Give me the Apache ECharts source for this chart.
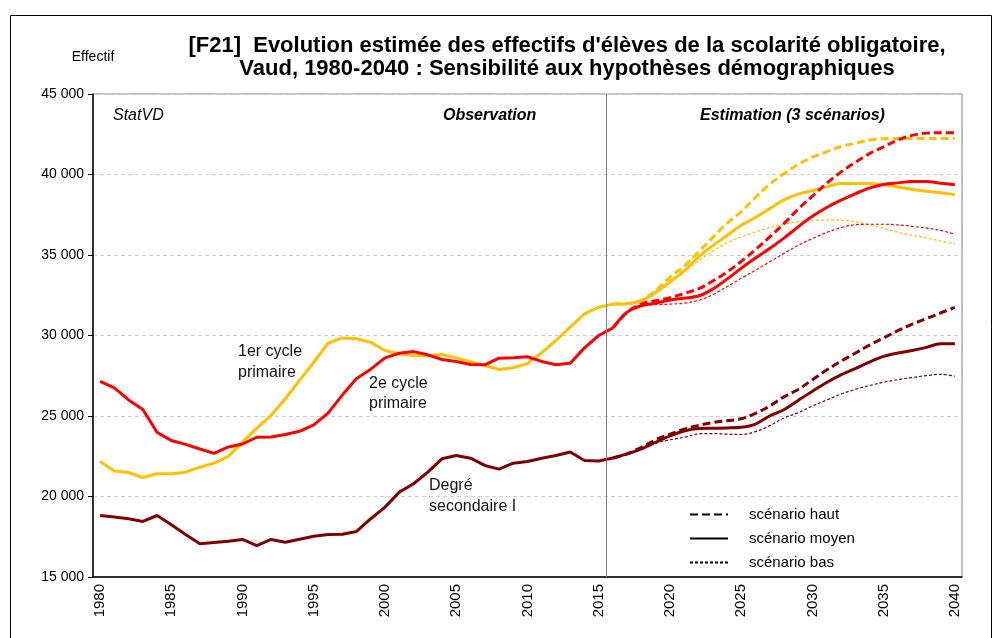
<!DOCTYPE html>
<html>
<head>
<meta charset="utf-8">
<script src="https://cdn.jsdelivr.net/npm/echarts@6/dist/echarts.min.js"></script>
<style>
  html, body { margin: 0; padding: 0; background: #fff; }
  #chart { width: 997px; height: 638px; }
</style>
</head>
<body>
<div id="chart"></div>
<script>
// annees observees et estimees
var obsYears = [1980,1981,1982,1983,1984,1985,1986,1987,1988,1989,1990,1991,1992,1993,1994,1995,1996,1997,1998,
  1999,2000,2001,2002,2003,2004,2005,2006,2007,2008,2009,2010,2011,2012,2013,2014,2015,2016];
var estYears = [2016,2017,2018,2019,2020,2021,2022,2023,2024,2025,2026,2027,2028,2029,2030,2031,2032,2033,2034,
  2035,2036,2037,2038,2039,2040];

// observation
var cycle1Obs = [22180,21580,21490,21180,21410,21410,21510,21820,22070,22490,23380,24250,25030,26070,27210,28340,
  29520,29850,29800,29570,29070,28860,28760,28760,28820,28610,28380,28140,27890,27990,28260,28940,29690,30520,
  31350,31760,31950];
var cycle2Obs = [27150,26750,26000,25400,23980,23480,23240,22950,22680,23080,23260,23680,23700,23850,24050,24450,
  25180,26300,27330,27910,28610,28900,29000,28800,28510,28390,28200,28180,28590,28620,28680,28390,28180,28280,
  29230,30000,30470];
var secObs = [18820,18720,18620,18450,18820,18240,17640,17060,17140,17220,17330,16950,17330,17160,17350,17530,
  17640,17660,17830,18620,19340,20270,20790,21510,22340,22550,22380,21930,21700,22070,22170,22380,22550,22760,
  22240,22200,22390];

// estimation : 1er cycle primaire
var cycle1Haut = [31950,31970,32180,32800,33630,34310,35190,36080,36970,37680,38570,39400,40040,40620,41080,41410,
  41740,41930,42140,42220,42240,42240,42240,42240,42240];
var cycle1Moyen = [31950,31970,32180,32680,33340,34020,34870,35580,36200,36850,37330,37880,38420,38780,39000,39230,
  39440,39440,39440,39360,39230,39070,38960,38860,38750];
var cycle1Bas = [31950,31970,32100,32590,33260,33940,34630,35230,35750,36120,36430,36700,36910,37070,37160,37160,
  37160,37070,36870,36660,36410,36220,36060,35870,35700];

// estimation : 2e cycle primaire
var cycle2Haut = [30470,31450,31950,32160,32340,32610,32900,33380,33940,34600,35330,36120,36950,37850,38650,39450,
  40150,40750,41300,41720,42140,42430,42570,42590,42590];
var cycle2Moyen = [30470,31450,31850,32010,32200,32320,32450,32880,33500,34170,34810,35400,36050,36750,37400,37950,
  38400,38800,39150,39380,39480,39560,39560,39460,39360];
var cycle2Bas = [30470,31450,31850,31910,31950,32010,32180,32530,33030,33550,34050,34580,35100,35600,36020,36400,
  36700,36880,36910,36910,36870,36780,36680,36530,36290];

// estimation : degre secondaire I
var secHaut = [22390,22650,23060,23520,23870,24180,24420,24590,24710,24830,25160,25620,26190,26650,27250,27850,
  28400,28900,29400,29850,30300,30700,31050,31400,31750];
var secMoyen = [22390,22650,22960,23370,23760,24070,24220,24240,24260,24300,24500,25000,25390,25970,26540,27080,
  27550,27940,28350,28700,28910,29070,29260,29490,29490];
var secBas = [22390,22650,22960,23310,23520,23680,23890,23910,23870,23850,24030,24400,24880,25200,25620,25990,
  26360,26650,26890,27100,27260,27390,27510,27590,27470];

var yTicks = [15000,20000,25000,30000,35000,40000,45000];

var YELLOW = '#FFC000', RED = '#FF0000', DARK = '#800000';
var FONT = '"Liberation Sans", Arial, sans-serif';

function pairs(years, vals) {
  var out = [];
  for (var i = 0; i < years.length; i++) out.push([years[i], vals[i]]);
  return out;
}

var haut = { width: 3, type: [8, 4] };
var moyen = { width: 3, type: 'solid' };
var bas = { width: 1.2, type: [3, 2] };

function obsLine(vals, color) {
  return { type: 'line', data: pairs(obsYears, vals), symbol: 'none', silent: true,
    lineStyle: { color: color, width: 3 }, z: 3 };
}
function estLine(vals, color, style) {
  return { type: 'line', data: pairs(estYears, vals), symbol: 'none', smooth: 0.35, silent: true,
    lineStyle: { color: color, width: style.width, type: style.type }, z: 3 };
}
function legendLine(name, style) {
  return { type: 'line', name: name, data: [], symbol: 'none', color: '#000',
    lineStyle: { color: '#000', width: style.width, type: style.type } };
}

var series = [
  obsLine(cycle1Obs, YELLOW),
  obsLine(cycle2Obs, RED),
  obsLine(secObs, DARK),
  estLine(cycle1Haut, YELLOW, haut),
  estLine(cycle1Moyen, YELLOW, moyen),
  estLine(cycle1Bas, YELLOW, bas),
  estLine(cycle2Haut, RED, haut),
  estLine(cycle2Moyen, RED, moyen),
  estLine(cycle2Bas, RED, bas),
  estLine(secHaut, DARK, haut),
  estLine(secMoyen, DARK, moyen),
  estLine(secBas, DARK, bas),
  legendLine('scénario haut', haut),
  legendLine('scénario moyen', moyen),
  legendLine('scénario bas', bas)
];

// trait vertical observation / estimation
series[0].markLine = {
  silent: true, symbol: 'none', label: { show: false },
  lineStyle: { color: '#808080', width: 1, type: 'solid' },
  data: [{ xAxis: 2015.5 }]
};

var chart = echarts.init(document.getElementById('chart'), null, { renderer: 'canvas' });
chart.setOption({
  animation: false,
  backgroundColor: '#fff',
  textStyle: { fontFamily: FONT },
  title: {
    text: "[F21]  Evolution estimée des effectifs d'élèves de la scolarité obligatoire,\nVaud, 1980-2040 : Sensibilité aux hypothèses démographiques",
    left: 562, top: 29, textAlign: 'center',
    textStyle: { fontFamily: FONT, fontSize: 22, fontWeight: 'bold', color: '#000', lineHeight: 23 }
  },
  grid: { left: 93, right: 35, top: 94, bottom: 61, show: true, borderColor: '#808080', borderWidth: 1 },
  legend: {
    orient: 'vertical', left: 684, top: 502, itemWidth: 38, itemHeight: 12, itemGap: 9,
    selectedMode: false,
    itemStyle: { opacity: 0 },
    data: ['scénario haut', 'scénario moyen', 'scénario bas'],
    textStyle: { fontFamily: FONT, fontSize: 15, color: '#000', padding: [0, 0, 0, 16] }
  },
  xAxis: {
    type: 'value', min: 1979.5, max: 2040.5, interval: 0.5,
    axisLine: { show: true, lineStyle: { color: '#000', width: 1.5 } },
    axisTick: { show: false },
    splitLine: { show: false },
    axisLabel: {
      rotate: 90, interval: 0, margin: 7, fontSize: 15, color: '#000', fontFamily: FONT,
      formatter: function (v) { return (Math.abs(v - Math.round(v)) < 1e-6 && Math.round(v) % 5 === 0) ? String(Math.round(v)) : ''; }
    }
  },
  yAxis: {
    type: 'value', min: yTicks[0], max: yTicks[yTicks.length - 1], interval: 5000,
    name: 'Effectif', nameLocation: 'end', nameGap: 30,
    nameTextStyle: { fontFamily: FONT, fontSize: 14, color: '#000', align: 'center' },
    axisLine: { show: true, lineStyle: { color: '#000', width: 1.5 } },
    axisTick: { show: true, inside: false, length: 5, lineStyle: { color: '#000' } },
    splitLine: { show: true, lineStyle: { color: '#d0d0d0', type: [4, 3], width: 1 } },
    axisLabel: {
      fontSize: 14, color: '#000', margin: 9, fontFamily: FONT,
      formatter: function (v) { return String(v).replace(/\B(?=(\d{3})+(?!\d))/g, ' '); }
    }
  },
  graphic: [
    { type: 'rect', left: 8, top: 13, shape: { width: 981, height: 640 }, silent: true,
      style: { fill: 'none', stroke: '#000', lineWidth: 1 } },
    { type: 'text', left: 113, top: 108, silent: true,
      style: { text: 'StatVD', font: 'italic 16px ' + FONT, fill: '#000' } },
    { type: 'text', left: 443, top: 108, silent: true,
      style: { text: 'Observation', font: 'italic bold 16px ' + FONT, fill: '#000' } },
    { type: 'text', left: 700, top: 108, silent: true,
      style: { text: 'Estimation (3 scénarios)', font: 'italic bold 16px ' + FONT, fill: '#000' } },
    { type: 'text', left: 238, top: 341, silent: true,
      style: { text: '1er cycle\nprimaire', font: '16px ' + FONT, fill: '#111', lineHeight: 21 } },
    { type: 'text', left: 369, top: 374, silent: true,
      style: { text: '2e cycle\nprimaire', font: '16px ' + FONT, fill: '#111', lineHeight: 20 } },
    { type: 'text', left: 429, top: 475, silent: true,
      style: { text: 'Degré\nsecondaire I', font: '16px ' + FONT, fill: '#111', lineHeight: 21 } }
  ],
  series: series
});
</script>
</body>
</html>
